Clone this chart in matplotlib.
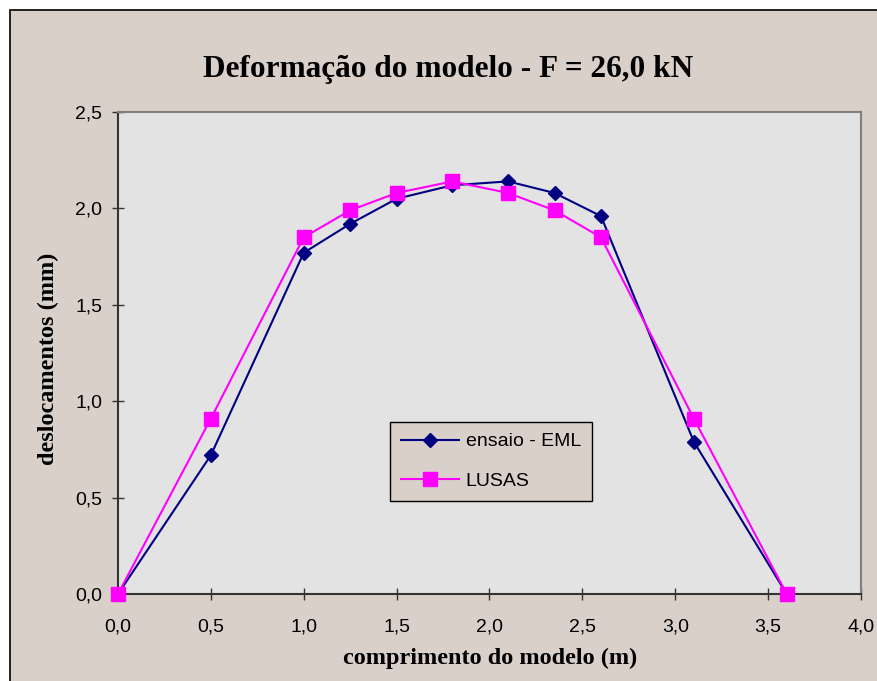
import matplotlib
matplotlib.use("Agg")
import matplotlib.pyplot as plt
from matplotlib.patches import Rectangle

# data
x_ensaio = [0.0, 0.5, 1.0, 1.25, 1.5, 1.8, 2.1, 2.35, 2.6, 3.1, 3.6]
y_ensaio = [0.0, 0.72, 1.77, 1.92, 2.05, 2.12, 2.14, 2.08, 1.96, 0.79, 0.0]

x_lusas = [0.0, 0.5, 1.0, 1.25, 1.5, 1.8, 2.1, 2.35, 2.6, 3.1, 3.6]
y_lusas = [0.0, 0.91, 1.85, 1.99, 2.08, 2.14, 2.08, 1.99, 1.85, 0.91, 0.0]

xticks = [0.0, 0.5, 1.0, 1.5, 2.0, 2.5, 3.0, 3.5, 4.0]
yticks = [0.0, 0.5, 1.0, 1.5, 2.0, 2.5]

beige = "#D9D0C9"
plot_bg = "#E3E3E3"

fig = plt.figure(figsize=(8.78, 6.81), dpi=100, facecolor="white")

# chart area background with border (cropped on right/bottom)
fig.patches.append(Rectangle((10 / 878, -0.05), 1.1, 1 - 10 / 681 + 0.05,
                             transform=fig.transFigure, facecolor=beige,
                             edgecolor="black", linewidth=1.2, zorder=-10))

ax = fig.add_axes([118 / 878, 87 / 681, 743 / 878, 482 / 681])
ax.set_facecolor(plot_bg)

ax.plot(x_ensaio, y_ensaio, color="#000080", lw=1.5, marker="D", ms=7,
        label="ensaio - EML", clip_on=False, zorder=3)
ax.plot(x_lusas, y_lusas, color="#FF00FF", lw=1.5, marker="s", ms=9.5,
        label="LUSAS", clip_on=False, zorder=4)

ax.set_xlim(0, 4)
ax.set_ylim(0, 2.5)
ax.set_xticks(xticks)
ax.set_yticks(yticks)
ax.set_xticklabels([f"{v:.1f}".replace(".", ",") for v in xticks])
ax.set_yticklabels([f"{v:.1f}".replace(".", ",") for v in yticks])
ax.tick_params(direction="inout", length=9, width=1, colors="#333333",
               labelcolor="black", labelsize=14)
ax.tick_params(axis="x", pad=13)
ax.tick_params(axis="y", pad=7)
for lab in ax.get_xticklabels() + ax.get_yticklabels():
    lab.set_fontfamily("Liberation Sans")

ax.spines["left"].set_color("#333333")
ax.spines["bottom"].set_color("#333333")
ax.spines["top"].set_color("#808080")
ax.spines["right"].set_color("#808080")
for s in ax.spines.values():
    s.set_linewidth(1.5)

fig.text(448 / 878, 1 - 69 / 681, "Deformação do modelo - F = 26,0 kN",
         ha="center", va="center", fontsize=22.5, fontweight="bold",
         fontfamily="Liberation Serif")
fig.text(490 / 878, 1 - 658 / 681, "comprimento do modelo (m)",
         ha="center", va="center", fontsize=17.5, fontweight="bold",
         fontfamily="Liberation Serif")
fig.text(48 / 878, 1 - 359 / 681, "deslocamentos (mm)", rotation=90,
         ha="center", va="center", fontsize=17.5, fontweight="bold",
         fontfamily="Liberation Serif")

leg = ax.legend(loc="upper left", bbox_to_anchor=((390 - 118) / 743, (594 - 422) / 482),
                frameon=True, fancybox=False, framealpha=1,
                facecolor=beige, edgecolor="black",
                prop={"family": "Liberation Sans", "size": 14},
                handlelength=3.0, borderpad=0.55, labelspacing=1.15,
                handletextpad=0.35, borderaxespad=0)
leg.get_frame().set_linewidth(1.0)

fig.savefig("out.png", dpi=100, facecolor=fig.get_facecolor())
